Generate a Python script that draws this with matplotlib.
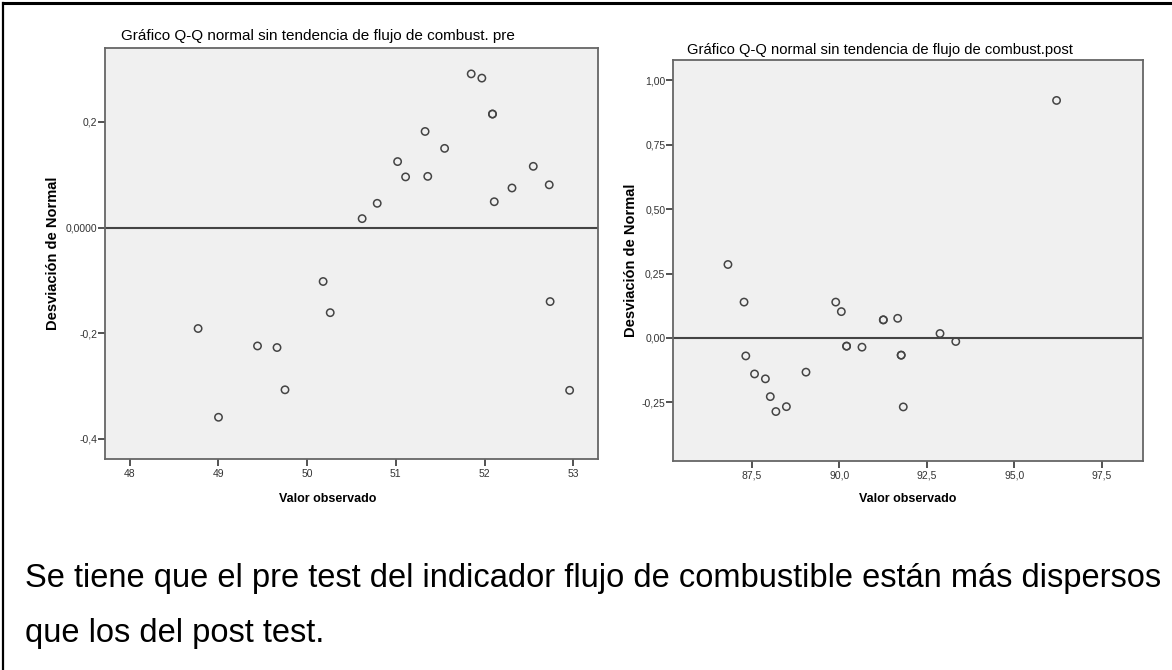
import matplotlib
matplotlib.use("Agg")
import matplotlib.pyplot as plt
from matplotlib import font_manager
from matplotlib.lines import Line2D

# pick a narrow font for the tick labels if one is installed
names = {f.name for f in font_manager.fontManager.ttflist}
narrow = "Liberation Sans Narrow" if "Liberation Sans Narrow" in names else "Liberation Sans"
plt.rcParams['font.family'] = ['Liberation Sans', 'DejaVu Sans']

# data
pre_obs = [51.85, 51.97, 52.09, 52.09, 51.33, 51.55, 51.02, 51.11, 51.36, 52.55,
           52.73, 52.31, 52.11, 50.79, 50.62, 50.18, 50.26, 48.77, 49.44, 49.66,
           49.75, 49.00, 52.74, 52.96]
pre_dev = [0.291, 0.283, 0.215, 0.215, 0.182, 0.150, 0.125, 0.096, 0.097, 0.116,
           0.081, 0.075, 0.049, 0.046, 0.017, -0.102, -0.161, -0.191, -0.224, -0.227,
           -0.307, -0.359, -0.140, -0.308]

post_obs = [86.82, 87.28, 87.33, 87.58, 87.89, 88.03, 88.19, 88.49, 89.05, 89.90,
            90.06, 90.21, 90.21, 90.65, 91.26, 91.26, 91.67, 91.77, 91.77, 91.83,
            92.88, 93.33, 96.21]
post_dev = [0.285, 0.139, -0.070, -0.140, -0.159, -0.228, -0.286, -0.267, -0.133, 0.139,
            0.102, -0.032, -0.032, -0.036, 0.070, 0.070, 0.076, -0.067, -0.067, -0.268,
            0.017, -0.014, 0.922]

pre_xticks = [48, 49, 50, 51, 52, 53]
pre_xlabels = ["48", "49", "50", "51", "52", "53"]
pre_yticks = [0.2, 0.0, -0.2, -0.4]
pre_ylabels = ["0,2", "0,0000", "-0,2", "-0,4"]

post_xticks = [87.5, 90.0, 92.5, 95.0, 97.5]
post_xlabels = ["87,5", "90,0", "92,5", "95,0", "97,5"]
post_yticks = [1.0, 0.75, 0.5, 0.25, 0.0, -0.25]
post_ylabels = ["1,00", "0,75", "0,50", "0,25", "0,00", "-0,25"]

W, H = 1172, 670
fig = plt.figure(figsize=(W / 100, H / 100), dpi=100)


def px_axes(x0, y0, x1, y1):
    return fig.add_axes([x0 / W, 1 - y1 / H, (x1 - x0) / W, (y1 - y0) / H])


def style(ax, xt, xl, yt, yl, ylab_x, xlab_x, xlab_y):
    ax.set_facecolor('#f0f0f0')
    for s in ax.spines.values():
        s.set_color('#666666')
        s.set_linewidth(1.3)
    ax.axhline(0, color='#444444', lw=1.5, zorder=1)
    ax.set_xticks(xt)
    ax.set_xticklabels(xl, fontfamily=narrow, fontsize=7.5, color='#333333')
    ax.set_yticks(yt)
    ax.set_yticklabels(yl, fontfamily=narrow, fontsize=7.5, color='#333333')
    ax.tick_params(direction='out', length=5, width=1.3, color='#444444', pad=2)
    ax.tick_params(axis='y', pad=0.5)
    ax.set_xlabel('Valor observado', fontfamily=narrow, fontweight='bold', fontsize=9)
    ax.xaxis.set_label_coords(xlab_x, xlab_y)
    ax.xaxis.label.set_va('center')
    ax.set_ylabel('Desviación de Normal', fontweight='bold', fontsize=10.5)
    ax.yaxis.set_label_coords(ylab_x, 0.5)
    ax.yaxis.label.set_va('center')


ax1 = px_axes(105, 48, 598, 459)
ax1.scatter(pre_obs, pre_dev, s=28, facecolors='none', edgecolors='#444444', linewidths=1.1, zorder=3)
ax1.set_xlim(47.72, 53.28)
ax1.set_ylim(-0.438, 0.340)
style(ax1, pre_xticks, pre_xlabels, pre_yticks, pre_ylabels, -0.1045, 0.452, -0.0985)

ax2 = px_axes(673, 60, 1143, 461)
ax2.scatter(post_obs, post_dev, s=28, facecolors='none', edgecolors='#444444', linewidths=1.1, zorder=3)
ax2.set_xlim(85.25, 98.68)
ax2.set_ylim(-0.478, 1.079)
style(ax2, post_xticks, post_xlabels, post_yticks, post_ylabels, -0.0894, 0.5, -0.096)

# chart titles (SPSS puts them a bit left of the plot centre)
fig.text(318 / W, 1 - 36 / H, 'Gráfico Q-Q normal sin tendencia de flujo de combust. pre',
         fontsize=11, ha='center', va='center')
fig.text(880 / W, 1 - 50 / H, 'Gráfico Q-Q normal sin tendencia de flujo de combust.post',
         fontsize=10.6, ha='center', va='center')

# page border (top and left only)
fig.add_artist(Line2D([3 / W, 3 / W], [0, 1 - 2.5 / H], color='black', lw=1.6))
fig.add_artist(Line2D([3 / W, 1], [1 - 2.5 / H, 1 - 2.5 / H], color='black', lw=2.2))

# paragraph under the charts
fig.text(25 / W, 1 - 587 / H, 'Se tiene que el pre test del indicador flujo de combustible están más dispersos',
         fontsize=23.5, va='baseline', ha='left')
fig.text(25 / W, 1 - 642 / H, 'que los del post test.', fontsize=23.5, va='baseline', ha='left')

fig.savefig('out.png', dpi=100)
